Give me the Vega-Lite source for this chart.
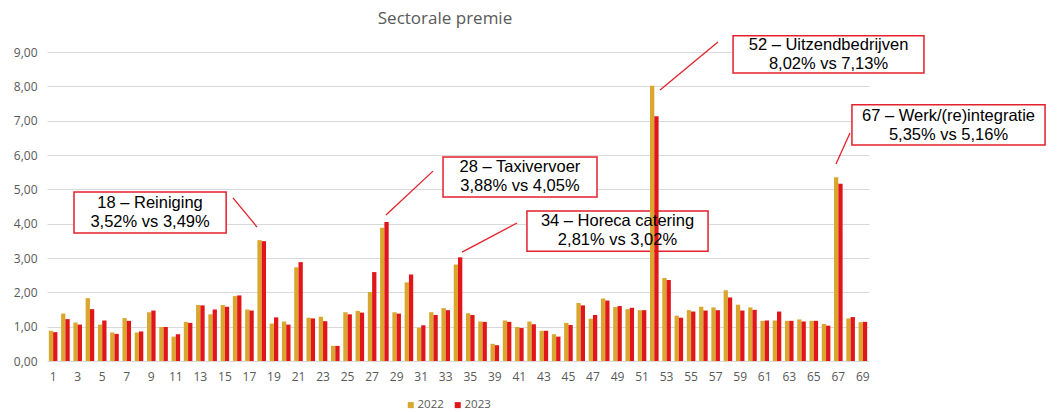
{
  "$schema": "https://vega.github.io/schema/vega-lite/v6.json",
  "width": 822,
  "height": 309,
  "autosize": "none",
  "padding": {"left": 47, "top": 52, "right": 188, "bottom": 51},
  "background": "white",
  "title": {"text": "Sectorale premie", "font": "Open Sans", "fontSize": 17, "fontWeight": "normal", "color": "#595959", "frame": "group", "anchor": "middle", "dx": -13, "offset": 7},
  "datasets": {
    "bars": [
      {"sector": "1", "year": "2022", "value": 0.88}, {"sector": "1", "year": "2023", "value": 0.84},
      {"sector": "2", "year": "2022", "value": 1.38}, {"sector": "2", "year": "2023", "value": 1.22},
      {"sector": "3", "year": "2022", "value": 1.12}, {"sector": "3", "year": "2023", "value": 1.06},
      {"sector": "4", "year": "2022", "value": 1.83}, {"sector": "4", "year": "2023", "value": 1.51},
      {"sector": "5", "year": "2022", "value": 1.06}, {"sector": "5", "year": "2023", "value": 1.18},
      {"sector": "6", "year": "2022", "value": 0.83}, {"sector": "6", "year": "2023", "value": 0.79},
      {"sector": "7", "year": "2022", "value": 1.25}, {"sector": "7", "year": "2023", "value": 1.17},
      {"sector": "8", "year": "2022", "value": 0.83}, {"sector": "8", "year": "2023", "value": 0.86},
      {"sector": "9", "year": "2022", "value": 1.42}, {"sector": "9", "year": "2023", "value": 1.47},
      {"sector": "10", "year": "2022", "value": 0.99}, {"sector": "10", "year": "2023", "value": 0.99},
      {"sector": "11", "year": "2022", "value": 0.71}, {"sector": "11", "year": "2023", "value": 0.78},
      {"sector": "12", "year": "2022", "value": 1.14}, {"sector": "12", "year": "2023", "value": 1.11},
      {"sector": "13", "year": "2022", "value": 1.63}, {"sector": "13", "year": "2023", "value": 1.62},
      {"sector": "14", "year": "2022", "value": 1.36}, {"sector": "14", "year": "2023", "value": 1.50},
      {"sector": "15", "year": "2022", "value": 1.63}, {"sector": "15", "year": "2023", "value": 1.58},
      {"sector": "16", "year": "2022", "value": 1.89}, {"sector": "16", "year": "2023", "value": 1.91},
      {"sector": "17", "year": "2022", "value": 1.50}, {"sector": "17", "year": "2023", "value": 1.47},
      {"sector": "18", "year": "2022", "value": 3.52}, {"sector": "18", "year": "2023", "value": 3.49},
      {"sector": "19", "year": "2022", "value": 1.09}, {"sector": "19", "year": "2023", "value": 1.27},
      {"sector": "20", "year": "2022", "value": 1.15}, {"sector": "20", "year": "2023", "value": 1.06},
      {"sector": "21", "year": "2022", "value": 2.73}, {"sector": "21", "year": "2023", "value": 2.88},
      {"sector": "22", "year": "2022", "value": 1.26}, {"sector": "22", "year": "2023", "value": 1.24},
      {"sector": "23", "year": "2022", "value": 1.29}, {"sector": "23", "year": "2023", "value": 1.16},
      {"sector": "24", "year": "2022", "value": 0.44}, {"sector": "24", "year": "2023", "value": 0.44},
      {"sector": "25", "year": "2022", "value": 1.42}, {"sector": "25", "year": "2023", "value": 1.36},
      {"sector": "26", "year": "2022", "value": 1.46}, {"sector": "26", "year": "2023", "value": 1.41},
      {"sector": "27", "year": "2022", "value": 2.01}, {"sector": "27", "year": "2023", "value": 2.59},
      {"sector": "28", "year": "2022", "value": 3.88}, {"sector": "28", "year": "2023", "value": 4.05},
      {"sector": "29", "year": "2022", "value": 1.42}, {"sector": "29", "year": "2023", "value": 1.38},
      {"sector": "30", "year": "2022", "value": 2.29}, {"sector": "30", "year": "2023", "value": 2.52},
      {"sector": "31", "year": "2022", "value": 0.97}, {"sector": "31", "year": "2023", "value": 1.04},
      {"sector": "32", "year": "2022", "value": 1.42}, {"sector": "32", "year": "2023", "value": 1.34},
      {"sector": "33", "year": "2022", "value": 1.54}, {"sector": "33", "year": "2023", "value": 1.48},
      {"sector": "34", "year": "2022", "value": 2.81}, {"sector": "34", "year": "2023", "value": 3.02},
      {"sector": "35", "year": "2022", "value": 1.39}, {"sector": "35", "year": "2023", "value": 1.34},
      {"sector": "38", "year": "2022", "value": 1.15}, {"sector": "38", "year": "2023", "value": 1.14},
      {"sector": "39", "year": "2022", "value": 0.50}, {"sector": "39", "year": "2023", "value": 0.46},
      {"sector": "40", "year": "2022", "value": 1.18}, {"sector": "40", "year": "2023", "value": 1.14},
      {"sector": "41", "year": "2022", "value": 0.99}, {"sector": "41", "year": "2023", "value": 0.96},
      {"sector": "42", "year": "2022", "value": 1.15}, {"sector": "42", "year": "2023", "value": 1.07},
      {"sector": "43", "year": "2022", "value": 0.88}, {"sector": "43", "year": "2023", "value": 0.88},
      {"sector": "44", "year": "2022", "value": 0.78}, {"sector": "44", "year": "2023", "value": 0.71},
      {"sector": "45", "year": "2022", "value": 1.11}, {"sector": "45", "year": "2023", "value": 1.05},
      {"sector": "46", "year": "2022", "value": 1.69}, {"sector": "46", "year": "2023", "value": 1.62},
      {"sector": "47", "year": "2022", "value": 1.23}, {"sector": "47", "year": "2023", "value": 1.34},
      {"sector": "48", "year": "2022", "value": 1.82}, {"sector": "48", "year": "2023", "value": 1.76},
      {"sector": "49", "year": "2022", "value": 1.57}, {"sector": "49", "year": "2023", "value": 1.60},
      {"sector": "50", "year": "2022", "value": 1.51}, {"sector": "50", "year": "2023", "value": 1.55},
      {"sector": "51", "year": "2022", "value": 1.48}, {"sector": "51", "year": "2023", "value": 1.48},
      {"sector": "52", "year": "2022", "value": 8.02}, {"sector": "52", "year": "2023", "value": 7.13},
      {"sector": "53", "year": "2022", "value": 2.42}, {"sector": "53", "year": "2023", "value": 2.36},
      {"sector": "54", "year": "2022", "value": 1.32}, {"sector": "54", "year": "2023", "value": 1.26},
      {"sector": "55", "year": "2022", "value": 1.48}, {"sector": "55", "year": "2023", "value": 1.44},
      {"sector": "56", "year": "2022", "value": 1.58}, {"sector": "56", "year": "2023", "value": 1.47},
      {"sector": "57", "year": "2022", "value": 1.56}, {"sector": "57", "year": "2023", "value": 1.48},
      {"sector": "58", "year": "2022", "value": 2.06}, {"sector": "58", "year": "2023", "value": 1.85},
      {"sector": "59", "year": "2022", "value": 1.64}, {"sector": "59", "year": "2023", "value": 1.47},
      {"sector": "60", "year": "2022", "value": 1.56}, {"sector": "60", "year": "2023", "value": 1.49},
      {"sector": "61", "year": "2022", "value": 1.17}, {"sector": "61", "year": "2023", "value": 1.18},
      {"sector": "62", "year": "2022", "value": 1.18}, {"sector": "62", "year": "2023", "value": 1.44},
      {"sector": "63", "year": "2022", "value": 1.17}, {"sector": "63", "year": "2023", "value": 1.17},
      {"sector": "64", "year": "2022", "value": 1.21}, {"sector": "64", "year": "2023", "value": 1.15},
      {"sector": "65", "year": "2022", "value": 1.17}, {"sector": "65", "year": "2023", "value": 1.17},
      {"sector": "66", "year": "2022", "value": 1.08}, {"sector": "66", "year": "2023", "value": 1.03},
      {"sector": "67", "year": "2022", "value": 5.35}, {"sector": "67", "year": "2023", "value": 5.16},
      {"sector": "68", "year": "2022", "value": 1.24}, {"sector": "68", "year": "2023", "value": 1.28},
      {"sector": "69", "year": "2022", "value": 1.13}, {"sector": "69", "year": "2023", "value": 1.14}
    ],
    "notes": [
      {"label": "18 – Reiniging|3,52% vs 3,49%", "bx1": 2.2, "bx2": 14.6, "by1": 4.92, "by2": 3.73, "tx": 8.4, "ty": 4.33, "lx1": 15.16, "ly1": 4.75, "lx2": 17.12, "ly2": 3.90},
      {"label": "28 – Taxivervoer|3,88% vs 4,05%", "bx1": 32.28, "bx2": 44.83, "by1": 5.94, "by2": 4.78, "tx": 38.55, "ty": 5.36, "lx1": 31.46, "ly1": 5.53, "lx2": 27.63, "ly2": 4.25},
      {"label": "34 – Horeca catering|2,81% vs 3,02%", "bx1": 39.12, "bx2": 53.88, "by1": 4.37, "by2": 3.20, "tx": 46.5, "ty": 3.79, "lx1": 38.31, "ly1": 4.02, "lx2": 33.83, "ly2": 3.17},
      {"label": "52 – Uitzendbedrijven|8,02% vs 7,13%", "bx1": 55.92, "bx2": 71.48, "by1": 9.47, "by2": 8.39, "tx": 63.7, "ty": 8.93, "lx1": 54.69, "ly1": 9.29, "lx2": 49.97, "ly2": 7.89},
      {"label": "67 – Werk/(re)integratie|5,35% vs 5,16%", "bx1": 65.61, "bx2": 81.35, "by1": 7.46, "by2": 6.29, "tx": 73.48, "ty": 6.87, "lx1": 65.45, "ly1": 6.64, "lx2": 64.31, "ly2": 5.74}
    ]
  },
  "layer": [
    {
      "data": {"name": "notes"},
      "mark": {"type": "rect", "fill": "white", "stroke": "#E3202B", "strokeWidth": 1.5},
      "encoding": {
        "x": {"field": "bx1", "type": "quantitative", "scale": {"domain": [0, 67], "nice": false, "zero": false}, "axis": null},
        "x2": {"field": "bx2"},
        "y": {"field": "by1", "type": "quantitative", "scale": {"domain": [0, 9], "nice": false},
          "axis": {"title": null, "values": [0,1,2,3,4,5,6,7,8,9], "labelExpr": "replace(format(datum.value, '.2f'), '.', ',')", "labelPadding": 10, "labelFontSize": 12, "labelColor": "#595959", "labelFont": "Open Sans", "grid": true, "gridColor": "#d9d9d9"}},
        "y2": {"field": "by2"}
      }
    },
    {
      "data": {"name": "bars"},
      "mark": {"type": "bar"},
      "encoding": {
        "x": {"field": "sector", "type": "nominal", "sort": null,
          "scale": {"paddingInner": 0.3, "paddingOuter": 0.15},
          "axis": {"title": null, "labelAngle": 0, "labelPadding": 10, "labelFontSize": 12, "labelColor": "#595959", "labelFont": "Open Sans",
            "values": ["1","3","5","7","9","11","13","15","17","19","21","23","25","27","29","31","33","35","39","41","43","45","47","49","51","53","55","57","59","61","63","65","67","69"]}},
        "xOffset": {"field": "year", "type": "nominal", "scale": {"paddingInner": 0, "paddingOuter": 0}},
        "y": {"field": "value", "type": "quantitative", "scale": {"domain": [0, 9], "nice": false},
          "axis": {"title": null, "values": [0,1,2,3,4,5,6,7,8,9], "labelExpr": "replace(format(datum.value, '.2f'), '.', ',')", "labelPadding": 10, "labelFontSize": 12, "labelColor": "#595959", "labelFont": "Open Sans", "grid": true, "gridColor": "#d9d9d9"}},
        "color": {"field": "year", "type": "nominal",
          "scale": {"domain": ["2022", "2023"], "range": ["#D9A72E", "#E0161B"]},
          "legend": {"orient": "none", "legendX": 358, "legendY": 347, "direction": "horizontal", "title": null, "symbolType": "square", "symbolSize": 36, "symbolStrokeWidth": 0, "labelFontSize": 11.5, "labelColor": "#595959", "labelFont": "Open Sans", "labelOffset": 1, "columnPadding": 8, "padding": 0}}
      }
    },
    {
      "data": {"name": "notes"},
      "mark": {"type": "rule", "color": "#E3202B", "strokeWidth": 1.3},
      "encoding": {
        "x": {"field": "lx1", "type": "quantitative", "scale": {"domain": [0, 67], "nice": false, "zero": false}, "axis": null},
        "x2": {"field": "lx2"},
        "y": {"field": "ly1", "type": "quantitative", "scale": {"domain": [0, 9], "nice": false},
          "axis": {"title": null, "values": [0,1,2,3,4,5,6,7,8,9], "labelExpr": "replace(format(datum.value, '.2f'), '.', ',')", "labelPadding": 10, "labelFontSize": 12, "labelColor": "#595959", "labelFont": "Open Sans", "grid": true, "gridColor": "#d9d9d9"}},
        "y2": {"field": "ly2"}
      }
    },
    {
      "data": {"name": "notes"},
      "mark": {"type": "text", "lineBreak": "|", "align": "center", "baseline": "middle", "dy": -9.5, "font": "Liberation Sans", "fontSize": 16.5, "lineHeight": 19, "color": "#000000"},
      "encoding": {
        "x": {"field": "tx", "type": "quantitative", "scale": {"domain": [0, 67], "nice": false, "zero": false}, "axis": null},
        "y": {"field": "ty", "type": "quantitative", "scale": {"domain": [0, 9], "nice": false},
          "axis": {"title": null, "values": [0,1,2,3,4,5,6,7,8,9], "labelExpr": "replace(format(datum.value, '.2f'), '.', ',')", "labelPadding": 10, "labelFontSize": 12, "labelColor": "#595959", "labelFont": "Open Sans", "grid": true, "gridColor": "#d9d9d9"}},
        "text": {"field": "label"}
      }
    }
  ],
  "resolve": {"scale": {"x": "independent"}},
  "config": {
    "view": {"stroke": null},
    "axis": {"domain": false, "ticks": false, "labelColor": "#595959"},
    "axisX": {"grid": false}
  }
}
